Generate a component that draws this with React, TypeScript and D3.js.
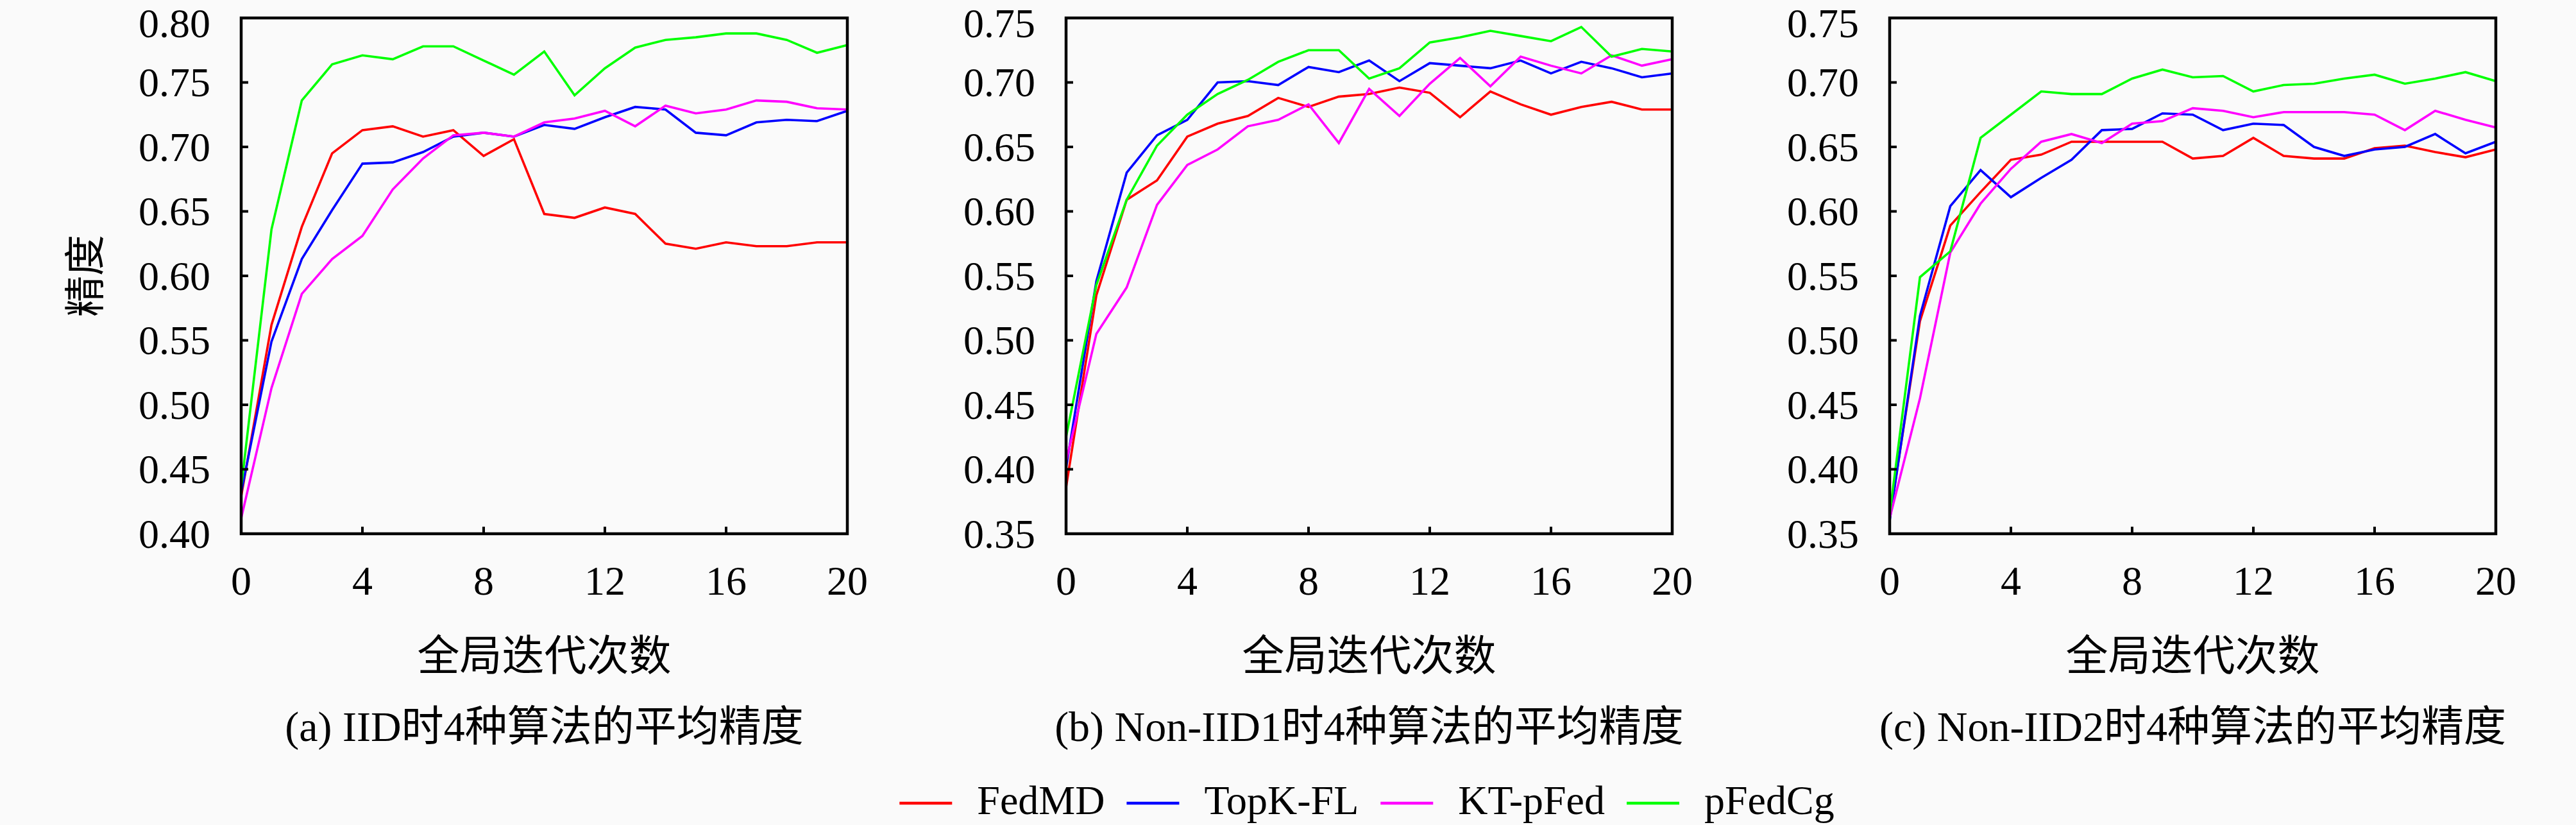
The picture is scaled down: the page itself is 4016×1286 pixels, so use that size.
import React, { useEffect, useRef } from "react";
import * as d3 from "d3";

const iterations = d3.range(0, 21);
const seriesNames = ["FedMD", "TopK-FL", "KT-pFed", "pFedCg"];
const seriesColors = ["#ff0000", "#0000ff", "#ff00ff", "#00ff00"];
const xTicks = [0, 4, 8, 12, 16, 20];
const captions = [
  "(a) IID时4种算法的平均精度",
  "(b) Non-IID1时4种算法的平均精度",
  "(c) Non-IID2时4种算法的平均精度",
];
const xLabel = "全局迭代次数";
const yLabel = "精度";
const yDomains: [number, number][] = [
  [0.4, 0.8],
  [0.35, 0.75],
  [0.35, 0.75],
];

// Panel (a) IID
const aFedMD = [0.429, 0.562, 0.638, 0.695, 0.713, 0.716, 0.708, 0.713, 0.693, 0.706, 0.648, 0.645, 0.653, 0.648, 0.625, 0.621, 0.626, 0.623, 0.623, 0.626, 0.626];
const aTopK = [0.432, 0.549, 0.613, 0.651, 0.687, 0.688, 0.696, 0.708, 0.711, 0.708, 0.717, 0.714, 0.723, 0.731, 0.729, 0.711, 0.709, 0.719, 0.721, 0.72, 0.728];
const aKT = [0.412, 0.513, 0.586, 0.613, 0.631, 0.667, 0.691, 0.709, 0.711, 0.708, 0.719, 0.722, 0.728, 0.716, 0.732, 0.726, 0.729, 0.736, 0.735, 0.73, 0.729];
const aPFedCg = [0.436, 0.636, 0.736, 0.764, 0.771, 0.768, 0.778, 0.778, 0.767, 0.756, 0.774, 0.74, 0.761, 0.777, 0.783, 0.785, 0.788, 0.788, 0.783, 0.773, 0.779];

// Panel (b) Non-IID1
const bFedMD = [0.386, 0.535, 0.609, 0.624, 0.658, 0.668, 0.674, 0.688, 0.681, 0.689, 0.691, 0.696, 0.692, 0.673, 0.693, 0.683, 0.675, 0.681, 0.685, 0.679, 0.679];
const bTopK = [0.401, 0.546, 0.63, 0.659, 0.671, 0.7, 0.701, 0.698, 0.712, 0.708, 0.717, 0.701, 0.715, 0.713, 0.711, 0.717, 0.707, 0.716, 0.711, 0.704, 0.707];
const bKT = [0.406, 0.505, 0.541, 0.605, 0.636, 0.648, 0.666, 0.671, 0.683, 0.653, 0.695, 0.674, 0.699, 0.719, 0.697, 0.72, 0.713, 0.707, 0.721, 0.713, 0.718];
const bPFedCg = [0.425, 0.543, 0.609, 0.651, 0.675, 0.691, 0.702, 0.716, 0.725, 0.725, 0.703, 0.711, 0.731, 0.735, 0.74, 0.736, 0.732, 0.743, 0.72, 0.726, 0.724];

// Panel (c) Non-IID2
const cFedMD = [0.362, 0.515, 0.589, 0.615, 0.64, 0.644, 0.654, 0.654, 0.654, 0.654, 0.641, 0.643, 0.657, 0.643, 0.641, 0.641, 0.649, 0.651, 0.646, 0.642, 0.648];
const cTopK = [0.36, 0.519, 0.604, 0.632, 0.611, 0.626, 0.64, 0.663, 0.664, 0.676, 0.675, 0.663, 0.668, 0.667, 0.65, 0.643, 0.648, 0.65, 0.66, 0.645, 0.654];
const cKT = [0.362, 0.455, 0.568, 0.606, 0.633, 0.654, 0.66, 0.653, 0.668, 0.67, 0.68, 0.678, 0.673, 0.677, 0.677, 0.677, 0.675, 0.663, 0.678, 0.671, 0.665];
const cPFedCg = [0.365, 0.549, 0.569, 0.657, 0.675, 0.693, 0.691, 0.691, 0.703, 0.71, 0.704, 0.705, 0.693, 0.698, 0.699, 0.703, 0.706, 0.699, 0.703, 0.708, 0.701];

const panelSeries = [
  [aFedMD, aTopK, aKT, aPFedCg],
  [bFedMD, bTopK, bKT, bPFedCg],
  [cFedMD, cTopK, cKT, cPFedCg],
];

const W = 4016;
const H = 1286;
const FONT = "'Liberation Serif', 'Noto Sans CJK SC', serif";
const CJK = "'Noto Sans CJK SC', 'Liberation Serif', sans-serif";

export default function App() {
  const ref = useRef<SVGSVGElement | null>(null);

  useEffect(() => {
    const svg = d3.select(ref.current!);
    svg.selectAll("*").remove();

    svg.append("rect").attr("width", W).attr("height", H).attr("fill", "#fafafa");

    const panelLeft = [376, 1662, 2946];
    const pw = 945;
    const top = 28;
    const ph = 804;

    panelSeries.forEach((series, pi) => {
      const x0 = panelLeft[pi];
      const g = svg.append("g").attr("transform", `translate(${x0},${top})`);
      const x = d3.scaleLinear().domain([0, 20]).range([0, pw]);
      const y = d3.scaleLinear().domain(yDomains[pi]).range([ph, 0]);
      const yt = d3.range(0, 9).map((k) => +(yDomains[pi][0] + k * 0.05).toFixed(2));

      const line = d3
        .line<number>()
        .x((_, i) => x(iterations[i]))
        .y((v) => y(v));

      series.forEach((vals, si) => {
        g.append("path")
          .attr("d", line(vals)!)
          .attr("fill", "none")
          .attr("stroke", seriesColors[si])
          .attr("stroke-width", 3.6)
          .attr("stroke-linejoin", "miter");
      });

      xTicks.forEach((t) => {
        g.append("line")
          .attr("x1", x(t)).attr("x2", x(t))
          .attr("y1", ph).attr("y2", ph - 11)
          .attr("stroke", "#000").attr("stroke-width", 4);
        g.append("text")
          .attr("x", x(t)).attr("y", 927 - top)
          .attr("text-anchor", "middle")
          .attr("font-family", FONT).attr("font-size", 64)
          .attr("fill", "#000")
          .text(String(t));
      });
      yt.forEach((t) => {
        g.append("line")
          .attr("x1", 0).attr("x2", 11)
          .attr("y1", y(t)).attr("y2", y(t))
          .attr("stroke", "#000").attr("stroke-width", 4);
        const lab = g.append("text")
          .attr("x", -48).attr("y", y(t))
          .attr("dy", "0.34em")
          .attr("text-anchor", "end")
          .attr("font-family", FONT).attr("font-size", 64)
          .attr("fill", "#000")
          .text(d3.format(".2f")(t));
        // keep the topmost label's box inside the picture
        const bb = (lab.node() as SVGTextElement).getBBox();
        const absTop = bb.y + top;
        if (absTop < 1) lab.attr("y", y(t) + (1 - absTop));
      });

      g.append("rect")
        .attr("x", 0).attr("y", 0).attr("width", pw).attr("height", ph)
        .attr("fill", "none").attr("stroke", "#000").attr("stroke-width", 4.5);

      g.append("text")
        .attr("x", pw / 2).attr("y", 1016 - top)
        .attr("text-anchor", "middle").attr("dominant-baseline", "central")
        .attr("font-family", CJK).attr("font-size", 66).attr("fill", "#000")
        .text(xLabel);

      g.append("text")
        .attr("x", pw / 2).attr("y", 1132 - top)
        .attr("text-anchor", "middle").attr("dominant-baseline", "central")
        .attr("font-family", FONT).attr("font-size", 66).attr("fill", "#000")
        .text(captions[pi]);
    });

    svg.append("text")
      .attr("transform", `translate(127,430) rotate(-90)`)
      .attr("text-anchor", "middle").attr("dominant-baseline", "central")
      .attr("font-family", CJK).attr("font-size", 64).attr("fill", "#000")
      .text(yLabel);

    // legend
    const lg = svg.append("g");
    const items = seriesNames.map((name, i) => {
      const gi = lg.append("g");
      gi.append("line")
        .attr("x1", 0).attr("x2", 82).attr("y1", 1252).attr("y2", 1252)
        .attr("stroke", seriesColors[i]).attr("stroke-width", 4.5);
      const t = gi.append("text")
        .attr("x", 121).attr("y", 1269)
        .attr("font-family", FONT).attr("font-size", 64).attr("fill", "#000")
        .text(name);
      const w = (t.node() as SVGTextElement).getComputedTextLength();
      return { gi, w };
    });
    const gap = 34;
    const total = items.reduce((s, it) => s + 121 + it.w, 0) + gap * (items.length - 1);
    let cx = 2131 - total / 2;
    items.forEach((it) => {
      it.gi.attr("transform", `translate(${cx},0)`);
      cx += 121 + it.w + gap;
    });
  }, []);

  return (
    <div style={{ position: "absolute", left: 0, top: 0, width: W, height: H }}>
      <svg ref={ref} width={W} height={H} style={{ display: "block" }} />
    </div>
  );
}
